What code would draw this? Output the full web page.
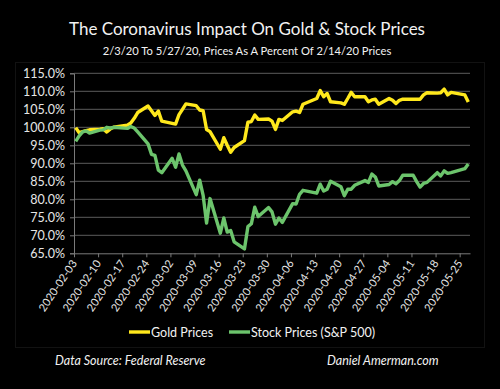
<!DOCTYPE html>
<html>
<head>
<meta charset="utf-8">
<script src="https://cdn.jsdelivr.net/npm/d3@7"></script>
<style>
  html, body { margin: 0; padding: 0; background: #000; }
  svg { display: block; }
  text { font-family: Lato, "Open Sans", sans-serif; }
</style>
</head>
<body>
<div id="chart"></div>
<script>
// trading days, Feb 3 to May 27 2020
const dates = [
  "2020-02-03", "2020-02-04", "2020-02-05", "2020-02-06", "2020-02-07",
  "2020-02-10", "2020-02-11", "2020-02-12", "2020-02-13", "2020-02-14",
  "2020-02-18", "2020-02-19", "2020-02-20", "2020-02-21",
  "2020-02-24", "2020-02-25", "2020-02-26", "2020-02-27", "2020-02-28",
  "2020-03-02", "2020-03-03", "2020-03-04", "2020-03-05", "2020-03-06",
  "2020-03-09", "2020-03-10", "2020-03-11", "2020-03-12", "2020-03-13",
  "2020-03-16", "2020-03-17", "2020-03-18", "2020-03-19", "2020-03-20",
  "2020-03-23", "2020-03-24", "2020-03-25", "2020-03-26", "2020-03-27",
  "2020-03-30", "2020-03-31", "2020-04-01", "2020-04-02", "2020-04-03",
  "2020-04-06", "2020-04-07", "2020-04-08", "2020-04-09",
  "2020-04-13", "2020-04-14", "2020-04-15", "2020-04-16", "2020-04-17",
  "2020-04-20", "2020-04-21", "2020-04-22", "2020-04-23", "2020-04-24",
  "2020-04-27", "2020-04-28", "2020-04-29", "2020-04-30", "2020-05-01",
  "2020-05-04", "2020-05-05", "2020-05-06", "2020-05-07", "2020-05-08",
  "2020-05-11", "2020-05-12", "2020-05-13", "2020-05-14", "2020-05-15",
  "2020-05-18", "2020-05-19", "2020-05-20", "2020-05-21", "2020-05-22",
  "2020-05-26", "2020-05-27"
];

// percent of 2/14/20 price
const goldPrices = [
  99.9, 98.5, 98.8, 99.1, 99.3,
  99.5, 99.6, 98.7, 99.5, 100.0,
  100.6, 101.2, 102.5, 104.1,
  105.9, 104.6, 103.3, 104.5, 101.7,
  101.1, 100.9, 103.5, 105.0, 106.5,
  106.0, 104.8, 104.6, 99.4, 98.8,
  93.9, 97.1, 95.0, 93.1, 94.4,
  96.3, 101.4, 101.6, 103.4, 102.2,
  102.3, 101.7, 99.4, 102.2, 101.9,
  104.3, 104.5, 104.1, 106.4,
  108.0, 110.2, 108.5, 109.4, 107.1,
  106.8, 106.4, 108.0, 109.7, 108.5,
  108.5, 107.1, 107.6, 107.8, 106.4,
  108.0, 107.5, 106.6, 107.5, 107.8,
  107.8, 107.8, 107.8, 109.0, 109.6,
  109.5, 109.6, 110.6, 109.0, 109.7,
  109.0, 107.0
];

const stockPrices = [
  96.1, 97.6, 98.7, 99.0, 98.4,
  99.2, 99.3, 100.0, 99.8, 100.0,
  99.7, 100.2, 99.8, 98.7,
  95.4, 92.5, 92.2, 88.1, 87.4,
  91.4, 88.9, 92.6, 89.5, 87.9,
  81.3, 85.3, 81.1, 73.4, 80.2,
  70.6, 74.8, 70.9, 71.3, 68.2,
  66.2, 72.4, 73.2, 77.8, 75.2,
  77.7, 76.5, 73.1, 74.8, 73.6,
  78.8, 78.7, 81.4, 82.5,
  81.7, 84.2, 82.3, 82.8, 85.0,
  83.5, 81.0, 82.8, 82.8, 83.9,
  85.2, 84.7, 87.0, 86.2, 83.7,
  84.1, 84.9, 84.3, 85.2, 86.7,
  86.7, 84.9, 83.4, 84.4, 84.7,
  87.4, 86.5, 87.9, 87.2, 87.4,
  88.5, 89.8
];

const yTicks = [65, 70, 75, 80, 85, 90, 95, 100, 105, 110, 115];

const seriesNames = ["Gold Prices", "Stock Prices (S&P 500)"];
const seriesColors = ["#ffe81c", "#6cc46c"];

const width = 500,
  height = 389;
const margin = { top: 73.3, right: 30, bottom: 135.7, left: 74 };

const parseDate = d3.timeParse("%Y-%m-%d");
const dayDates = dates.map(parseDate);

const svg = d3
  .select("#chart")
  .append("svg")
  .attr("width", width)
  .attr("height", height);

svg.append("rect").attr("width", width).attr("height", height).attr("fill", "#000");

// faint chart-area frame
svg
  .append("rect")
  .attr("x", 15.5)
  .attr("y", 62.5)
  .attr("width", 469)
  .attr("height", 285)
  .attr("fill", "none")
  .attr("stroke", "#121212");

// titles
svg
  .append("text")
  .attr("x", 247)
  .attr("y", 35)
  .attr("text-anchor", "middle")
  .attr("fill", "#f2f2f2")
  .style("font-size", "17px")
  .text("The Coronavirus Impact On Gold & Stock Prices");

svg
  .append("text")
  .attr("x", 247)
  .attr("y", 55)
  .attr("text-anchor", "middle")
  .attr("fill", "#f2f2f2")
  .style("font-size", "11.2px")
  .text("2/3/20 To 5/27/20, Prices As A Percent Of 2/14/20 Prices");

const x = d3
  .scaleTime()
  .domain([parseDate("2020-02-03"), parseDate("2020-05-28")])
  .range([margin.left, width - margin.right]);

const y = d3
  .scaleLinear()
  .domain([65, 115])
  .range([height - margin.bottom, margin.top]);

// gridlines
svg
  .append("g")
  .selectAll("line")
  .data(yTicks.slice(1))
  .enter()
  .append("line")
  .attr("x1", margin.left)
  .attr("x2", width - margin.right)
  .attr("y1", (d) => y(d))
  .attr("y2", (d) => y(d))
  .attr("stroke", "#5c5c5c")
  .attr("stroke-width", 1);

// y axis
const yAxis = svg
  .append("g")
  .attr("transform", "translate(" + margin.left + ",0)")
  .call(
    d3
      .axisLeft(y)
      .tickValues(yTicks)
      .tickSize(4)
      .tickPadding(5)
      .tickFormat((d) => d.toFixed(1) + "%")
  );
yAxis.select(".domain").attr("stroke", "#7a7a7a");
yAxis.selectAll(".tick line").attr("stroke", "#7a7a7a");
yAxis
  .selectAll("text")
  .attr("fill", "#e6e6e6")
  .style("font-size", "12.5px")
  .style("font-family", "Lato, sans-serif");

// x axis
const xTicks = d3.timeMonday.range(parseDate("2020-02-03"), parseDate("2020-05-26"));
const xAxis = svg
  .append("g")
  .attr("transform", "translate(0," + (height - margin.bottom) + ")")
  .call(
    d3
      .axisBottom(x)
      .tickValues(xTicks)
      .tickSize(4)
      .tickSizeOuter(0)
      .tickFormat(d3.timeFormat("%Y-%m-%d"))
  );
xAxis.select(".domain").attr("stroke", "#7a7a7a");
xAxis.selectAll(".tick line").attr("stroke", "#7a7a7a");
xAxis
  .selectAll("text")
  .attr("fill", "#e6e6e6")
  .style("font-size", "11px")
  .style("font-family", "Lato, sans-serif")
  .attr("text-anchor", "end")
  .attr("dy", null)
  .attr("y", 0)
  .attr("transform", "translate(3,10) rotate(-56)");

// lines, points drawn mid-day
const line = d3
  .line()
  .x((d) => x(d3.timeHour.offset(d.date, 12)))
  .y((d) => y(d.value));

const series = [goldPrices, stockPrices].map((vals) =>
  vals.map((v, i) => ({ date: dayDates[i], value: v }))
);

svg
  .append("g")
  .selectAll("path")
  .data(series)
  .enter()
  .append("path")
  .attr("d", line)
  .attr("fill", "none")
  .attr("stroke", (d, i) => seriesColors[i])
  .attr("stroke-width", 3.4)
  .attr("stroke-linejoin", "round");

// legend
const legendX = [129, 229];
const legend = svg
  .append("g")
  .selectAll("g")
  .data(seriesNames)
  .enter()
  .append("g")
  .attr("transform", (d, i) => "translate(" + legendX[i] + ",332)");

legend
  .append("line")
  .attr("x1", 0)
  .attr("x2", 21)
  .attr("stroke", (d, i) => seriesColors[i])
  .attr("stroke-width", 3.4);

legend
  .append("text")
  .attr("x", 22)
  .attr("y", 4.5)
  .attr("fill", "#f2f2f2")
  .style("font-size", "12.5px")
  .text((d) => d);

// footer
svg
  .append("text")
  .attr("x", 55)
  .attr("y", 365)
  .attr("fill", "#f2f2f2")
  .style("font-size", "12.5px")
  .style("font-style", "italic")
  .text("Data Source: Federal Reserve");

svg
  .append("text")
  .attr("x", 327)
  .attr("y", 365)
  .attr("fill", "#f2f2f2")
  .style("font-size", "12.5px")
  .style("font-style", "italic")
  .text("Daniel Amerman.com");
</script>
</body>
</html>
